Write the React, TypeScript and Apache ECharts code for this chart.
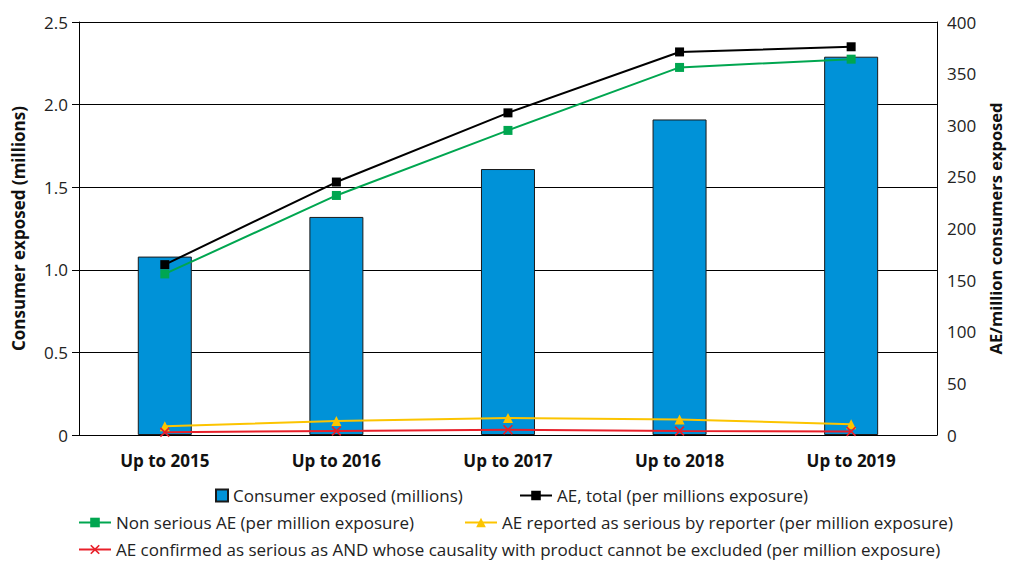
import React, { useEffect, useRef } from "react";
import * as echarts from "echarts";

const categories = ["Up to 2015", "Up to 2016", "Up to 2017", "Up to 2018", "Up to 2019"];
const consumerExposed = [1.08, 1.32, 1.61, 1.91, 2.29];
const aeTotal = [165, 245, 312, 371, 376];
const nonSeriousAE = [156, 232, 295, 356, 364];
const seriousByReporter = [8.5, 13.5, 16.5, 15, 10.5];
const confirmedSerious = [2.6, 3.9, 5.2, 3.9, 3.5];

const leftTicks = { min: 0, max: 2.5, interval: 0.5 };
const rightTicks = { min: 0, max: 400, interval: 50 };

const names = {
  bar: "Consumer exposed (millions)",
  total: "AE, total (per millions exposure)",
  nonSerious: "Non serious AE (per million exposure)",
  reporter: "AE reported as serious by reporter (per million exposure)",
  confirmed: "AE confirmed as serious as AND whose causality with product cannot be excluded (per million exposure)",
};

const FONT = "Open Sans";
const crossPath = "path://M0,1.2L1.2,0L5,3.8L8.8,0L10,1.2L6.2,5L10,8.8L8.8,10L5,6.2L1.2,10L0,8.8L3.8,5Z";

export default function App() {
  const ref = useRef<HTMLDivElement>(null);
  useEffect(() => {
    if (!ref.current) return;
    const chart = echarts.init(ref.current, undefined, { renderer: "svg" });
    const legendText = { fontFamily: FONT, fontSize: 17, color: "#222" };
    const mkLegend = (name: string, left: number, top: number, w: number, h: number, icon?: string) => ({
      data: [icon ? { name, icon } : { name }],
      left,
      top,
      itemWidth: w,
      itemHeight: h,
      padding: 0,
      textStyle: legendText,
      selectedMode: false,
    });
    chart.setOption({
      animation: false,
      textStyle: { fontFamily: FONT },
      grid: { left: 79, right: 70, top: 22, bottom: 126, containLabel: false },
      legend: [
        mkLegend(names.bar, 215, 487, 12, 12, "rect"),
        mkLegend(names.total, 519, 487, 32, 12),
        mkLegend(names.nonSerious, 78, 514, 32, 12),
        mkLegend(names.reporter, 464, 514, 32, 12),
        mkLegend(names.confirmed, 78, 541, 32, 12),
      ],
      xAxis: {
        type: "category",
        data: categories,
        axisLine: { lineStyle: { color: "#000", width: 1 } },
        axisTick: { show: false },
        axisLabel: { fontFamily: FONT, fontSize: 17, fontWeight: "bold", color: "#111", margin: 17 },
      },
      yAxis: [
        {
          type: "value",
          ...leftTicks,
          name: "Consumer exposed (millions)",
          nameLocation: "middle",
          nameGap: 52,
          nameTextStyle: { fontFamily: FONT, fontSize: 17, fontWeight: "bold", color: "#111" },
          axisLine: { show: true, lineStyle: { color: "#000", width: 1 } },
          axisTick: { show: true, length: 7, lineStyle: { color: "#000" } },
          axisLabel: {
            fontFamily: FONT,
            fontSize: 17,
            color: "#222",
            margin: 11,
            formatter: (v: number) => (v === 0 ? "0" : v.toFixed(1)),
          },
          splitLine: { show: true, lineStyle: { color: "#000", width: 1 } },
        },
        {
          type: "value",
          ...rightTicks,
          name: "AE/million consumers exposed",
          nameLocation: "middle",
          nameGap: 50,
          nameTextStyle: { fontFamily: FONT, fontSize: 16.5, fontWeight: "bold", color: "#111" },
          axisLine: { show: true, lineStyle: { color: "#000", width: 1 } },
          axisTick: { show: false },
          axisLabel: { fontFamily: FONT, fontSize: 17, color: "#222", margin: 10 },
          splitLine: { show: false },
        },
      ],
      series: [
        {
          name: names.bar,
          type: "bar",
          data: consumerExposed,
          barWidth: 54,
          itemStyle: { color: "#0092d8", borderColor: "#1a1a1a", borderWidth: 1 },
        },
        {
          name: names.total,
          type: "line",
          yAxisIndex: 1,
          data: aeTotal,
          symbol: "rect",
          symbolSize: 9,
          lineStyle: { color: "#000", width: 2 },
          itemStyle: { color: "#000" },
        },
        {
          name: names.nonSerious,
          type: "line",
          yAxisIndex: 1,
          data: nonSeriousAE,
          symbol: "rect",
          symbolSize: 9,
          lineStyle: { color: "#00a650", width: 2 },
          itemStyle: { color: "#00a650" },
        },
        {
          name: names.reporter,
          type: "line",
          yAxisIndex: 1,
          data: seriousByReporter,
          symbol: "triangle",
          symbolSize: 10,
          lineStyle: { color: "#fcc400", width: 2 },
          itemStyle: { color: "#fcc400" },
        },
        {
          name: names.confirmed,
          type: "line",
          yAxisIndex: 1,
          data: confirmedSerious,
          symbol: crossPath,
          symbolSize: 10,
          lineStyle: { color: "#e8202a", width: 2 },
          itemStyle: { color: "#e8202a" },
        },
      ],
    });
    return () => chart.dispose();
  }, []);
  return (
    <div
      ref={ref}
      style={{ position: "fixed", left: 0, top: 0, width: 1012, height: 561, background: "#fff" }}
    />
  );
}
